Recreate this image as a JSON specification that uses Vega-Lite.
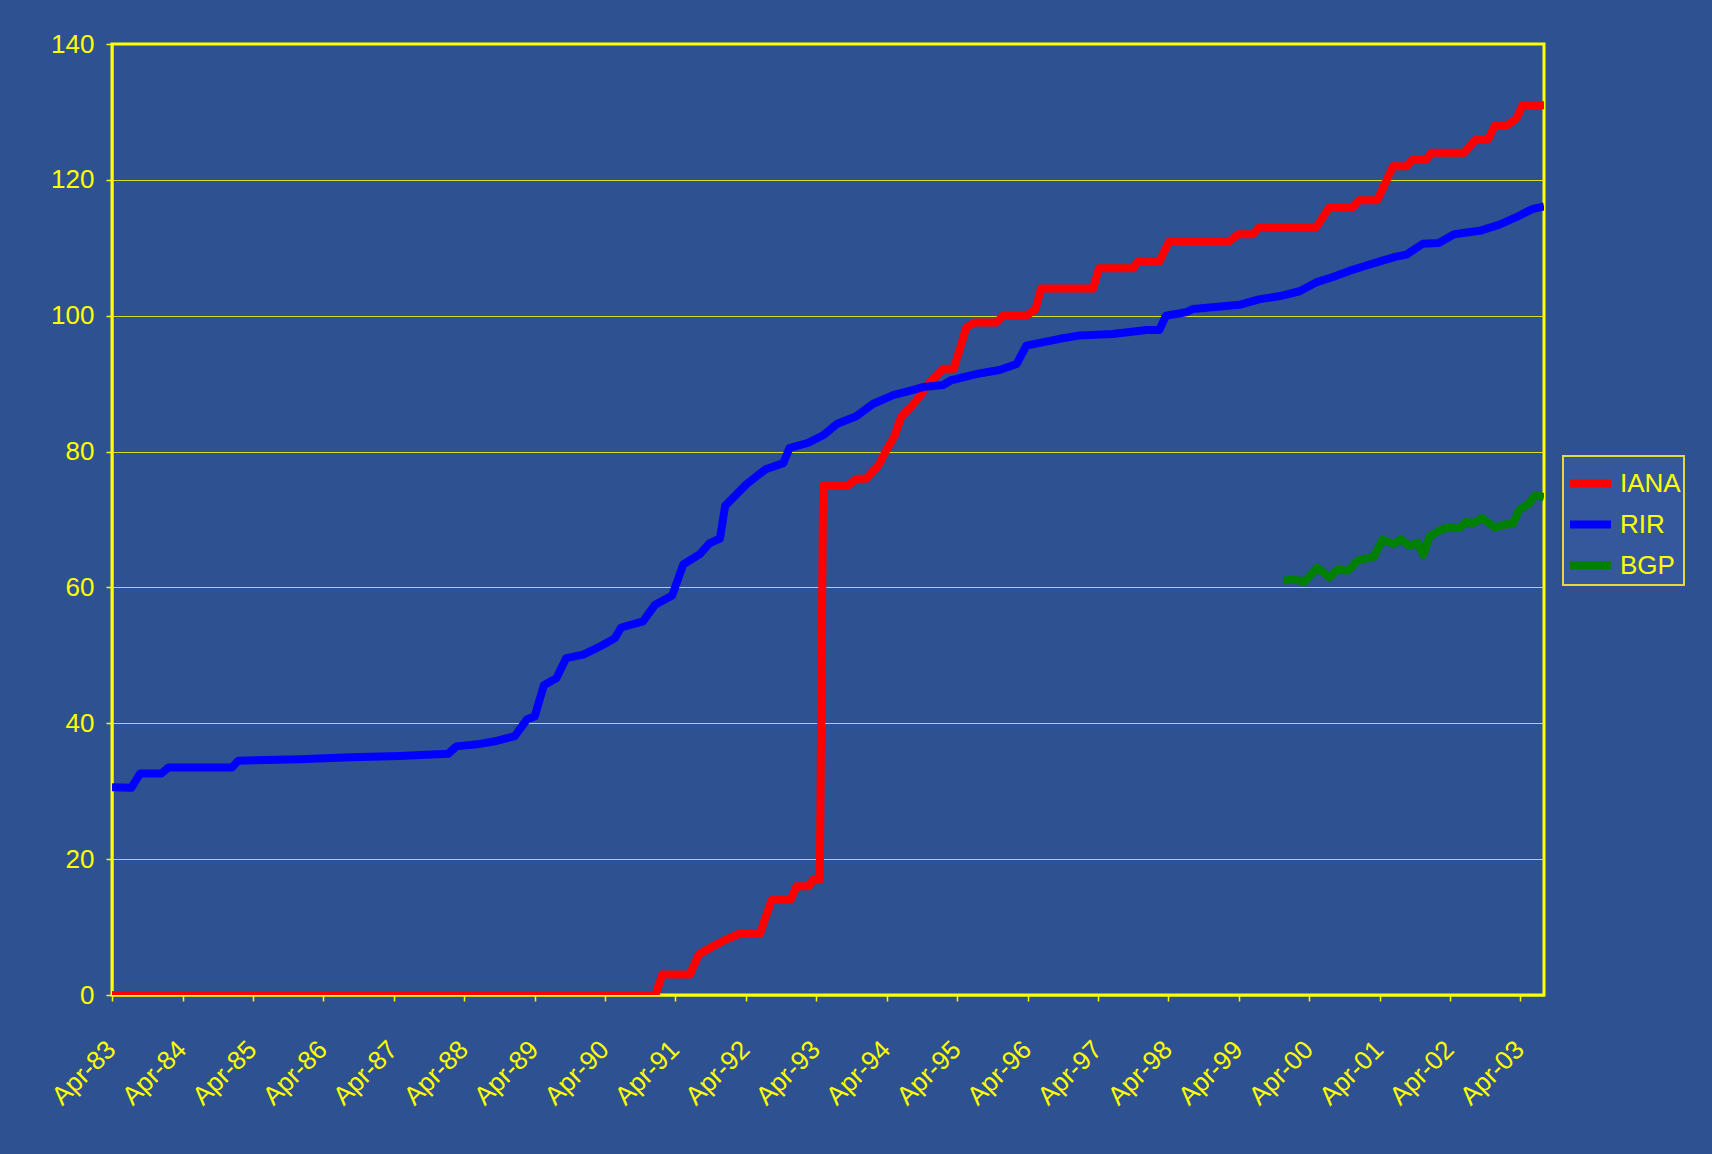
{
  "$schema": "https://vega.github.io/schema/vega-lite/v6.json",
  "width": 1432,
  "height": 951,
  "autosize": "none",
  "padding": {"left": 112, "top": 44, "right": 168, "bottom": 159},
  "background": "#2E5191",
  "config": {
    "view": {"stroke": "#FFFF00", "strokeWidth": 3, "fill": null},
    "legend": {"strokeWidth": 2},
    "axis": {
      "labelColor": "#FFFF00",
      "labelFont": "Liberation Sans Narrow, Arial Narrow, Liberation Sans",
      "labelFontSize": 26,
      "tickColor": "#FFFF00",
      "tickSize": 6,
      "tickWidth": 1.5,
      "domainColor": "#FFFF00",
      "domainWidth": 2,
      "gridColor": "#FFFF00",
      "gridWidth": 1,
      "gridOpacity": 0.8,
      "title": null
    }
  },
  "data": {
    "values": [
      {"s":"IANA","d":"1983-04-01","v":0},
      {"s":"IANA","d":"1990-12-19","v":0},
      {"s":"IANA","d":"1991-01-22","v":3},
      {"s":"IANA","d":"1991-06-15","v":3},
      {"s":"IANA","d":"1991-08-01","v":6},
      {"s":"IANA","d":"1991-10-01","v":7},
      {"s":"IANA","d":"1991-12-06","v":8},
      {"s":"IANA","d":"1992-02-25","v":9},
      {"s":"IANA","d":"1992-06-12","v":9},
      {"s":"IANA","d":"1992-08-12","v":14},
      {"s":"IANA","d":"1992-11-18","v":14},
      {"s":"IANA","d":"1992-12-19","v":16},
      {"s":"IANA","d":"1993-02-22","v":16},
      {"s":"IANA","d":"1993-03-15","v":17},
      {"s":"IANA","d":"1993-04-19","v":17},
      {"s":"IANA","d":"1993-05-06","v":75},
      {"s":"IANA","d":"1993-09-12","v":75},
      {"s":"IANA","d":"1993-10-25","v":76},
      {"s":"IANA","d":"1993-12-15","v":76},
      {"s":"IANA","d":"1994-02-18","v":78},
      {"s":"IANA","d":"1994-04-01","v":80.3},
      {"s":"IANA","d":"1994-05-10","v":82.2},
      {"s":"IANA","d":"1994-06-15","v":85.1},
      {"s":"IANA","d":"1994-08-12","v":86.8},
      {"s":"IANA","d":"1994-10-04","v":88.7},
      {"s":"IANA","d":"1994-11-10","v":90.2},
      {"s":"IANA","d":"1995-01-19","v":92.2},
      {"s":"IANA","d":"1995-03-15","v":92.2},
      {"s":"IANA","d":"1995-05-19","v":98.3},
      {"s":"IANA","d":"1995-07-01","v":99},
      {"s":"IANA","d":"1995-10-22","v":99},
      {"s":"IANA","d":"1995-11-25","v":100},
      {"s":"IANA","d":"1996-03-25","v":100},
      {"s":"IANA","d":"1996-05-12","v":101},
      {"s":"IANA","d":"1996-06-09","v":104},
      {"s":"IANA","d":"1997-03-06","v":104},
      {"s":"IANA","d":"1997-04-06","v":107},
      {"s":"IANA","d":"1997-10-01","v":107},
      {"s":"IANA","d":"1997-10-25","v":108},
      {"s":"IANA","d":"1998-02-13","v":108},
      {"s":"IANA","d":"1998-04-06","v":111},
      {"s":"IANA","d":"1999-02-13","v":111},
      {"s":"IANA","d":"1999-03-28","v":112},
      {"s":"IANA","d":"1999-06-13","v":112},
      {"s":"IANA","d":"1999-07-15","v":113},
      {"s":"IANA","d":"2000-05-06","v":113},
      {"s":"IANA","d":"2000-07-15","v":116},
      {"s":"IANA","d":"2000-11-13","v":116},
      {"s":"IANA","d":"2000-12-15","v":117},
      {"s":"IANA","d":"2001-03-19","v":117},
      {"s":"IANA","d":"2001-06-09","v":122},
      {"s":"IANA","d":"2001-08-18","v":122},
      {"s":"IANA","d":"2001-09-19","v":123},
      {"s":"IANA","d":"2001-11-28","v":123},
      {"s":"IANA","d":"2001-12-25","v":124},
      {"s":"IANA","d":"2002-06-13","v":124},
      {"s":"IANA","d":"2002-08-13","v":126},
      {"s":"IANA","d":"2002-10-15","v":126},
      {"s":"IANA","d":"2002-11-19","v":128},
      {"s":"IANA","d":"2003-01-19","v":128},
      {"s":"IANA","d":"2003-03-10","v":129},
      {"s":"IANA","d":"2003-04-12","v":131},
      {"s":"IANA","d":"2003-08-01","v":131},

      {"s":"RIR","d":"1983-04-01","v":30.6},
      {"s":"RIR","d":"1983-07-10","v":30.5},
      {"s":"RIR","d":"1983-08-25","v":32.6},
      {"s":"RIR","d":"1983-12-13","v":32.6},
      {"s":"RIR","d":"1984-01-19","v":33.5},
      {"s":"RIR","d":"1984-12-13","v":33.5},
      {"s":"RIR","d":"1985-01-15","v":34.5},
      {"s":"RIR","d":"1985-12-01","v":34.7},
      {"s":"RIR","d":"1986-08-19","v":35.0},
      {"s":"RIR","d":"1987-05-04","v":35.2},
      {"s":"RIR","d":"1988-01-07","v":35.5},
      {"s":"RIR","d":"1988-02-21","v":36.6},
      {"s":"RIR","d":"1988-06-07","v":36.9},
      {"s":"RIR","d":"1988-09-15","v":37.4},
      {"s":"RIR","d":"1988-12-19","v":38.1},
      {"s":"RIR","d":"1989-02-21","v":40.6},
      {"s":"RIR","d":"1989-04-01","v":41.0},
      {"s":"RIR","d":"1989-05-19","v":45.6},
      {"s":"RIR","d":"1989-07-01","v":46.3},
      {"s":"RIR","d":"1989-07-22","v":46.6},
      {"s":"RIR","d":"1989-09-12","v":49.6},
      {"s":"RIR","d":"1989-12-09","v":50.1},
      {"s":"RIR","d":"1990-03-06","v":51.3},
      {"s":"RIR","d":"1990-05-21","v":52.5},
      {"s":"RIR","d":"1990-06-24","v":54.1},
      {"s":"RIR","d":"1990-10-15","v":55.0},
      {"s":"RIR","d":"1990-12-15","v":57.4},
      {"s":"RIR","d":"1991-03-15","v":58.8},
      {"s":"RIR","d":"1991-05-12","v":63.4},
      {"s":"RIR","d":"1991-08-06","v":64.9},
      {"s":"RIR","d":"1991-09-24","v":66.5},
      {"s":"RIR","d":"1991-11-18","v":67.2},
      {"s":"RIR","d":"1991-12-15","v":72.0},
      {"s":"RIR","d":"1992-04-04","v":75.2},
      {"s":"RIR","d":"1992-07-12","v":77.4},
      {"s":"RIR","d":"1992-10-12","v":78.3},
      {"s":"RIR","d":"1992-11-12","v":80.5},
      {"s":"RIR","d":"1993-02-18","v":81.3},
      {"s":"RIR","d":"1993-05-06","v":82.4},
      {"s":"RIR","d":"1993-07-19","v":84.1},
      {"s":"RIR","d":"1993-10-25","v":85.2},
      {"s":"RIR","d":"1994-01-19","v":87.0},
      {"s":"RIR","d":"1994-05-04","v":88.3},
      {"s":"RIR","d":"1994-08-07","v":89.0},
      {"s":"RIR","d":"1994-10-07","v":89.5},
      {"s":"RIR","d":"1995-01-19","v":89.8},
      {"s":"RIR","d":"1995-03-01","v":90.5},
      {"s":"RIR","d":"1995-07-25","v":91.5},
      {"s":"RIR","d":"1995-11-07","v":92.0},
      {"s":"RIR","d":"1996-02-04","v":92.9},
      {"s":"RIR","d":"1996-03-25","v":95.6},
      {"s":"RIR","d":"1996-09-15","v":96.6},
      {"s":"RIR","d":"1996-12-28","v":97.1},
      {"s":"RIR","d":"1997-06-15","v":97.3},
      {"s":"RIR","d":"1997-12-10","v":97.9},
      {"s":"RIR","d":"1998-02-13","v":97.9},
      {"s":"RIR","d":"1998-03-19","v":100.0},
      {"s":"RIR","d":"1998-07-01","v":100.5},
      {"s":"RIR","d":"1998-08-07","v":101.0},
      {"s":"RIR","d":"1999-04-04","v":101.6},
      {"s":"RIR","d":"1999-07-15","v":102.4},
      {"s":"RIR","d":"1999-11-01","v":102.9},
      {"s":"RIR","d":"2000-02-10","v":103.6},
      {"s":"RIR","d":"2000-05-06","v":104.9},
      {"s":"RIR","d":"2000-08-01","v":105.7},
      {"s":"RIR","d":"2000-10-25","v":106.6},
      {"s":"RIR","d":"2001-01-22","v":107.4},
      {"s":"RIR","d":"2001-04-15","v":108.1},
      {"s":"RIR","d":"2001-06-24","v":108.7},
      {"s":"RIR","d":"2001-08-18","v":109.0},
      {"s":"RIR","d":"2001-11-10","v":110.6},
      {"s":"RIR","d":"2002-02-01","v":110.7},
      {"s":"RIR","d":"2002-04-22","v":112.0},
      {"s":"RIR","d":"2002-09-01","v":112.5},
      {"s":"RIR","d":"2002-12-13","v":113.4},
      {"s":"RIR","d":"2003-03-10","v":114.5},
      {"s":"RIR","d":"2003-06-01","v":115.7},
      {"s":"RIR","d":"2003-08-01","v":116.1},

      {"s":"BGP","d":"1999-11-19","v":61.0},
      {"s":"BGP","d":"2000-01-15","v":61.2},
      {"s":"BGP","d":"2000-03-06","v":60.8},
      {"s":"BGP","d":"2000-05-12","v":62.9},
      {"s":"BGP","d":"2000-07-15","v":61.5},
      {"s":"BGP","d":"2000-08-25","v":62.6},
      {"s":"BGP","d":"2000-10-19","v":62.5},
      {"s":"BGP","d":"2000-12-10","v":64.0},
      {"s":"BGP","d":"2001-03-01","v":64.5},
      {"s":"BGP","d":"2001-04-15","v":67.0},
      {"s":"BGP","d":"2001-06-15","v":66.4},
      {"s":"BGP","d":"2001-07-19","v":67.1},
      {"s":"BGP","d":"2001-09-01","v":66.1},
      {"s":"BGP","d":"2001-10-15","v":66.6},
      {"s":"BGP","d":"2001-11-13","v":64.8},
      {"s":"BGP","d":"2001-12-15","v":67.5},
      {"s":"BGP","d":"2002-02-06","v":68.4},
      {"s":"BGP","d":"2002-03-28","v":68.9},
      {"s":"BGP","d":"2002-05-19","v":68.7},
      {"s":"BGP","d":"2002-06-25","v":69.7},
      {"s":"BGP","d":"2002-07-25","v":69.4},
      {"s":"BGP","d":"2002-09-15","v":70.2},
      {"s":"BGP","d":"2002-11-19","v":68.8},
      {"s":"BGP","d":"2003-01-01","v":69.2},
      {"s":"BGP","d":"2003-02-22","v":69.4},
      {"s":"BGP","d":"2003-03-25","v":71.4},
      {"s":"BGP","d":"2003-05-12","v":72.3},
      {"s":"BGP","d":"2003-06-19","v":73.6},
      {"s":"BGP","d":"2003-08-01","v":73.3}
    ]
  },
  "mark": {"type": "line", "strokeWidth": 8, "strokeJoin": "round", "strokeCap": "butt", "clip": true},
  "encoding": {
    "x": {
      "field": "d",
      "type": "temporal",
      "scale": {"type": "utc", "domain": [{"year": 1983, "month": 4, "date": 1, "utc": true}, {"year": 2003, "month": 8, "date": 1, "utc": true}]},
      "axis": {
        "grid": false,
        "format": "%b-%y",
        "labelAngle": -45,
        "labelPadding": 35,
        "labelOffset": -10,
        "values": [
          {"year":1983,"month":4,"date":1,"utc":true},{"year":1984,"month":4,"date":1,"utc":true},{"year":1985,"month":4,"date":1,"utc":true},{"year":1986,"month":4,"date":1,"utc":true},{"year":1987,"month":4,"date":1,"utc":true},{"year":1988,"month":4,"date":1,"utc":true},{"year":1989,"month":4,"date":1,"utc":true},{"year":1990,"month":4,"date":1,"utc":true},{"year":1991,"month":4,"date":1,"utc":true},{"year":1992,"month":4,"date":1,"utc":true},{"year":1993,"month":4,"date":1,"utc":true},{"year":1994,"month":4,"date":1,"utc":true},{"year":1995,"month":4,"date":1,"utc":true},{"year":1996,"month":4,"date":1,"utc":true},{"year":1997,"month":4,"date":1,"utc":true},{"year":1998,"month":4,"date":1,"utc":true},{"year":1999,"month":4,"date":1,"utc":true},{"year":2000,"month":4,"date":1,"utc":true},{"year":2001,"month":4,"date":1,"utc":true},{"year":2002,"month":4,"date":1,"utc":true},{"year":2003,"month":4,"date":1,"utc":true}
        ],
        "labelOverlap": false,
        "labelFlush": false
      }
    },
    "y": {
      "field": "v",
      "type": "quantitative",
      "scale": {"domain": [0, 140], "nice": false},
      "axis": {"values": [0, 20, 40, 60, 80, 100, 120, 140], "grid": true, "labelPadding": 12, "domain": true}
    },
    "color": {
      "field": "s",
      "type": "nominal",
      "scale": {"domain": ["IANA", "RIR", "BGP"], "range": ["#FF0000", "#0000FF", "#008000"]},
      "legend": {
        "title": null,
        "orient": "none",
        "legendX": 1451,
        "legendY": 412,
        "fillColor": "#34589B",
        "strokeColor": "#E0DA40",
        "padding": 3,
        "symbolType": "stroke",
        "symbolSize": 1681,
        "symbolStrokeWidth": 8,
        "labelColor": "#FFFF00",
        "labelFont": "Liberation Sans Narrow, Arial Narrow, Liberation Sans",
        "labelFontSize": 26,
        "labelOffset": 5,
        "rowPadding": 0
      }
    }
  }
}
